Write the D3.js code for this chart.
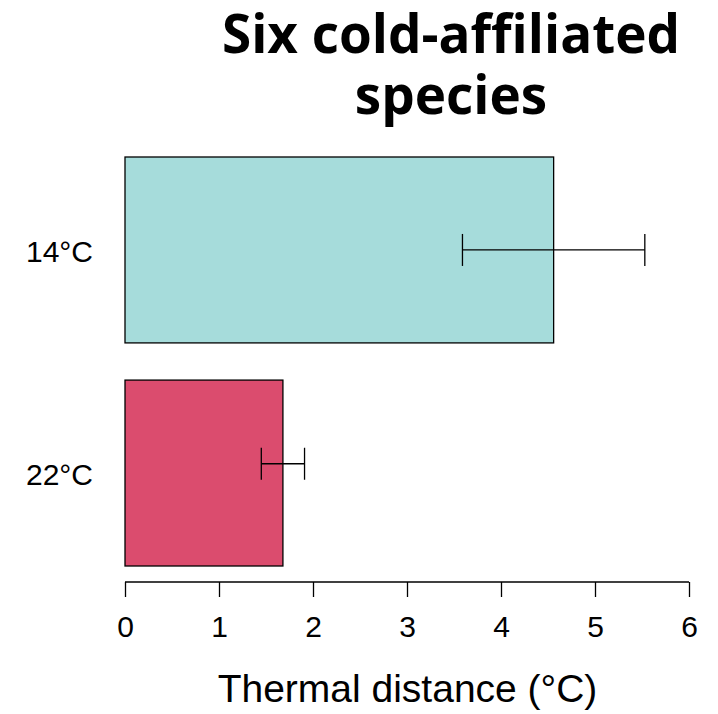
<!DOCTYPE html>
<html>
<head>
<meta charset="utf-8">
<script src="https://cdn.jsdelivr.net/npm/d3@7"></script>
<style>
  html, body { margin: 0; padding: 0; background: #ffffff; }
  svg { display: block; }
</style>
</head>
<body>
<svg id="chart" width="718" height="714"></svg>
<script>
// Mean thermal distance per rearing temperature, with error half-widths
const temperatures = ["14°C", "22°C"];
const meanDistance = [4.56, 1.68];
const errorHalfWidth = [0.97, 0.23];
// Vertical placement of each error bar, in bar units (bar width 1, gap 0.2)
const errorBarAt = [0.7, 1.85];
const barColors = ["#A6DCDB", "#DB4C6E"];
const xTicks = [0, 1, 2, 3, 4, 5, 6];
const titleLines = ["Six cold-affiliated", "species"];
const xAxisTitle = "Thermal distance (°C)";

const svg = d3.select("#chart");

const x = d3.scaleLinear().domain([0, 6]).range([125, 689]);
// Bar-unit scale: bar i spans [0.2 + 1.2 i, 1.2 + 1.2 i]
const y = d3.scaleLinear().domain([0.2, 2.4]).range([157, 566]);

const rows = temperatures.map((t, i) => ({
  t, i, mean: meanDistance[i], err: errorHalfWidth[i], color: barColors[i],
  top: 0.2 + 1.2 * i, mid: 0.7 + 1.2 * i, ebY: errorBarAt[i]
}));

// Bars
svg.append("g").selectAll("rect").data(rows).join("rect")
  .attr("x", x(0))
  .attr("y", d => y(d.top))
  .attr("width", d => x(d.mean) - x(0))
  .attr("height", d => y(d.top + 1) - y(d.top))
  .attr("fill", d => d.color)
  .attr("stroke", "#000")
  .attr("stroke-width", 1.3);

// Error bars
const eb = svg.append("g").attr("stroke", "#000").attr("stroke-width", 1.3).attr("fill", "none");
rows.forEach(d => {
  const cy = y(d.ebY);
  const lo = x(d.mean - d.err), hi = x(d.mean + d.err);
  eb.append("line").attr("x1", lo).attr("x2", hi).attr("y1", cy).attr("y2", cy);
  eb.append("line").attr("x1", lo).attr("x2", lo).attr("y1", cy - 16).attr("y2", cy + 16);
  eb.append("line").attr("x1", hi).attr("x2", hi).attr("y1", cy - 16).attr("y2", cy + 16);
});

// Category labels
svg.append("g").selectAll("text").data(rows).join("text")
  .attr("x", 93)
  .attr("y", d => y(d.mid) + 1)
  .attr("dy", "0.36em")
  .attr("text-anchor", "end")
  .attr("font-family", "Liberation Sans, Arial, sans-serif")
  .attr("font-size", 30)
  .attr("fill", "#000")
  .text(d => d.t);

// X axis
const axis = svg.append("g")
  .attr("transform", "translate(0,582)")
  .call(d3.axisBottom(x).tickValues(xTicks).tickFormat(d3.format("d")).tickSize(15).tickPadding(19));
axis.select(".domain").attr("stroke", "#000").attr("stroke-width", 1.3)
  .attr("d", `M${x(0)},0H${x(6)}`);
axis.selectAll(".tick line").attr("stroke", "#000").attr("stroke-width", 1.3);
axis.selectAll(".tick text")
  .attr("font-family", "Liberation Sans, Arial, sans-serif")
  .attr("font-size", 30)
  .attr("fill", "#000");

// Axis title
svg.append("text")
  .attr("x", (x(0) + x(6)) / 2 + 0.5)
  .attr("y", 702)
  .attr("text-anchor", "middle")
  .attr("font-family", "Liberation Sans, Arial, sans-serif")
  .attr("font-size", 39)
  .attr("fill", "#000")
  .text(xAxisTitle);

// Title
svg.append("g").selectAll("text").data(titleLines).join("text")
  .attr("x", 451)
  .attr("y", (d, i) => 53 + i * 61)
  .attr("text-anchor", "middle")
  .attr("font-family", "Open Sans, sans-serif")
  .attr("font-weight", "bold")
  .attr("font-size", 53)
  .attr("fill", "#000")
  .text(d => d);
</script>
</body>
</html>
